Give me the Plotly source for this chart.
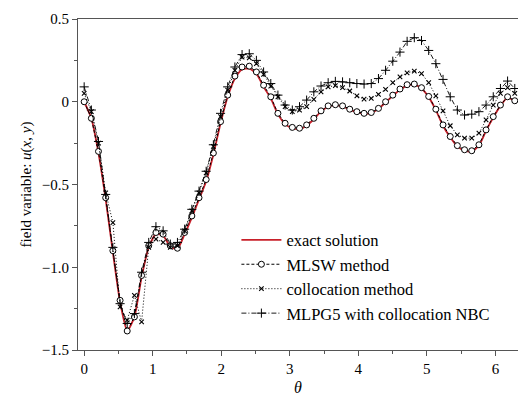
import plotly.graph_objects as go

theta = [0.000, 0.105, 0.209, 0.314, 0.419, 0.524, 0.628, 0.733, 0.838, 0.942,
         1.047, 1.152, 1.257, 1.361, 1.466, 1.571, 1.676, 1.780, 1.885, 1.990,
         2.094, 2.199, 2.304, 2.409, 2.513, 2.618, 2.723, 2.827, 2.932, 3.037,
         3.142, 3.246, 3.351, 3.456, 3.560, 3.665, 3.770, 3.875, 3.979, 4.084,
         4.189, 4.294, 4.398, 4.503, 4.608, 4.712, 4.817, 4.922, 5.027, 5.131,
         5.236, 5.341, 5.445, 5.550, 5.655, 5.760, 5.864, 5.969, 6.074, 6.178,
         6.283]

exact = [0.00, -0.10, -0.31, -0.59, -0.91, -1.21, -1.385, -1.30, -1.06, -0.88,
         -0.80, -0.81, -0.875, -0.89, -0.80, -0.70, -0.59, -0.48, -0.32, -0.13,
         0.03, 0.14, 0.195, 0.20, 0.17, 0.09, 0.02, -0.075, -0.135, -0.16,
         -0.165, -0.145, -0.105, -0.06, -0.03, -0.022, -0.028, -0.048, -0.063, -0.073,
         -0.068, -0.043, -0.004, 0.036, 0.073, 0.098, 0.103, 0.08, 0.028, -0.05,
         -0.145, -0.215, -0.27, -0.295, -0.30, -0.265, -0.175, -0.095, -0.025, 0.025,
         0.003]

mlsw = [0.00, -0.10, -0.30, -0.58, -0.90, -1.20, -1.385, -1.30, -1.05, -0.87,
        -0.79, -0.80, -0.87, -0.885, -0.79, -0.69, -0.58, -0.47, -0.31, -0.12,
        0.04, 0.155, 0.21, 0.215, 0.18, 0.10, 0.03, -0.07, -0.13, -0.155,
        -0.16, -0.14, -0.10, -0.055, -0.025, -0.018, -0.025, -0.045, -0.06, -0.07,
        -0.065, -0.04, 0.00, 0.04, 0.077, 0.103, 0.107, 0.085, 0.032, -0.045,
        -0.14, -0.21, -0.265, -0.29, -0.296, -0.26, -0.17, -0.09, -0.02, 0.03,
        0.006]

collocation = [0.05, -0.06, -0.25, -0.55, -0.73, -1.24, -1.32, -1.17, -1.33, -0.88,
               -0.83, -0.85, -0.88, -0.87, -0.78, -0.66, -0.55, -0.43, -0.27, -0.09,
               0.07, 0.19, 0.27, 0.265, 0.23, 0.165, 0.095, 0.03, -0.03, -0.06,
               -0.05, -0.03, 0.015, 0.06, 0.09, 0.097, 0.085, 0.065, 0.035, 0.016,
               0.02, 0.045, 0.075, 0.115, 0.15, 0.175, 0.185, 0.17, 0.115, 0.035,
               -0.055, -0.145, -0.20, -0.22, -0.22, -0.19, -0.11, -0.02, 0.05, 0.085,
               0.05]

mlpg5 = [0.09, -0.05, -0.24, -0.56, -0.88, -1.22, -1.34, -1.28, -1.03, -0.85,
         -0.755, -0.78, -0.86, -0.85, -0.77, -0.65, -0.54, -0.42, -0.26, -0.07,
         0.09, 0.21, 0.285, 0.29, 0.25, 0.18, 0.11, 0.04, -0.02, -0.05,
         -0.03, 0.01, 0.06, 0.095, 0.115, 0.123, 0.12, 0.115, 0.11, 0.107,
         0.11, 0.14, 0.19, 0.245, 0.30, 0.365, 0.387, 0.37, 0.31, 0.23,
         0.135, 0.03, -0.05, -0.08, -0.075, -0.06, -0.02, 0.03, 0.08, 0.125,
         0.08]

y_tickvals = [0.5, 0, -0.5, -1.0, -1.5]
y_ticktext = ["0.5", "0", "\u22120.5", "\u22121.0", "\u22121.5"]
x_tickvals = [0, 1, 2, 3, 4, 5, 6]

FONT = "Liberation Serif"
AX = "#555555"

fig = go.Figure()
fig.add_trace(go.Scatter(
    x=theta, y=exact, mode="lines", name="exact solution",
    line=dict(color="#c8202a", width=1.8, shape="spline", smoothing=0.6)))
fig.add_trace(go.Scatter(
    x=theta, y=mlsw, mode="lines+markers", name="MLSW method",
    line=dict(color="black", width=1, dash="3px,2px"),
    marker=dict(symbol="circle", size=6, color="white",
                line=dict(color="black", width=1))))
fig.add_trace(go.Scatter(
    x=theta, y=collocation, mode="lines+markers", name="collocation method",
    line=dict(color="black", width=1, dash="1px,2px"),
    marker=dict(symbol="x-thin-open", size=4.5, color="black",
                line=dict(color="black", width=1.1))))
fig.add_trace(go.Scatter(
    x=theta, y=mlpg5, mode="lines+markers", name="MLPG5 with collocation NBC",
    line=dict(color="black", width=0.9, dash="5px,2px,1px,2px"),
    marker=dict(symbol="cross-thin-open", size=6.5, color="black",
                line=dict(color="black", width=1))))

fig.update_layout(
    width=518, height=396,
    margin=dict(l=78, r=0, t=19, b=46),
    paper_bgcolor="white", plot_bgcolor="white",
    font=dict(family=FONT, size=15, color="black"),
    showlegend=True,
    legend=dict(x=0.36, y=0.385, xanchor="left", yanchor="top",
                bgcolor="rgba(0,0,0,0)", borderwidth=0,
                font=dict(family=FONT, size=16.5), tracegroupgap=0,
                itemwidth=40),
    xaxis=dict(range=[-0.09, 6.33], tickvals=x_tickvals,
               ticks="outside", ticklen=5, tickcolor=AX,
               showline=True, linecolor=AX, linewidth=1, mirror=True,
               showgrid=False, zeroline=False,
               minor=dict(ticks="outside", ticklen=3, dtick=0.5, tick0=0,
                          tickcolor=AX, showgrid=False),
               title=dict(text="<i>\u03b8</i>", standoff=6,
                          font=dict(family=FONT, size=16)),
               tickfont=dict(family=FONT, size=15)),
    yaxis=dict(range=[-1.5, 0.5], tickvals=y_tickvals, ticktext=y_ticktext,
               ticks="outside", ticklen=5, tickcolor=AX,
               showline=True, linecolor=AX, linewidth=1,
               showgrid=False, zeroline=False,
               minor=dict(ticks="outside", ticklen=3, dtick=0.25, tick0=0,
                          tickcolor=AX, showgrid=False),
               title=dict(text="field variable: <i>u</i>(<i>x</i>, <i>y</i>)",
                          standoff=6, font=dict(family=FONT, size=15)),
               tickfont=dict(family=FONT, size=15)),
)

fig.write_html("out.html")
